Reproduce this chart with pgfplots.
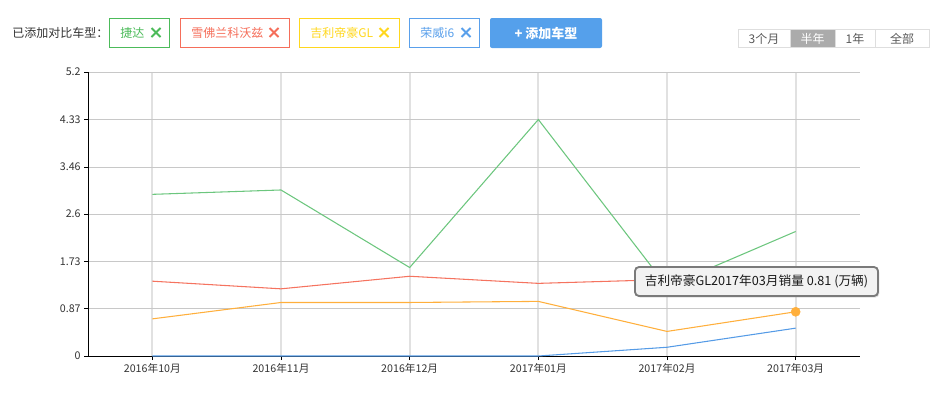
\documentclass[border=0pt]{standalone}
\usepackage{fontspec}
\setmainfont{Noto Sans CJK SC}
\usepackage{pgfplots}
\pgfplotsset{compat=1.18}
\usetikzlibrary{shadows}
\definecolor{lgreen}{RGB}{108,198,126}
\definecolor{lred}{RGB}{245,115,95}
\definecolor{lorange}{RGB}{255,175,60}
\definecolor{lblue}{RGB}{85,155,230}
\definecolor{bgreen}{RGB}{76,187,90}
\definecolor{bred}{RGB}{245,110,90}
\definecolor{byellow}{RGB}{255,215,30}
\definecolor{bblue}{RGB}{90,160,235}
\definecolor{btn}{RGB}{85,160,235}
\definecolor{hgrid}{RGB}{200,200,200}
\definecolor{vgrid}{RGB}{225,225,225}
\newcommand{\xmark}[2]{%
  \draw[#2, line width=1.5pt] (#1-4.5,28) -- (#1+4.5,37);
  \draw[#2, line width=1.5pt] (#1-4.5,37) -- (#1+4.5,28);}
\begin{document}
\begin{tikzpicture}
\begin{scope}[x=0.75pt,y=-0.75pt]
  \useasboundingbox (0,0) rectangle (939,400);
\end{scope}
\begin{axis}[
  scale only axis,
  width=579pt, height=213pt,
  at={(66pt,-267pt)}, anchor=south west,
  xmin=-0.5, xmax=5.5, ymin=0, ymax=5.2,
  axis x line*=bottom, axis y line*=left,
  axis line style={black, line width=0.75pt},
  tick align=outside, major tick length=3pt,
  tick style={black, line width=0.75pt},
  xtick={0,1,2,3,4,5},
  xticklabels={2016年10月,2016年11月,2016年12月,2017年01月,2017年02月,2017年03月},
  ytick={0,0.87,1.73,2.6,3.46,4.33,5.2},
  yticklabels={0,0.87,1.73,2.6,3.46,4.33,5.2},
  ticklabel style={font=\fontsize{8}{9.5}\selectfont, text=black!80},
  yticklabel style={xshift=1pt},
  xticklabel style={yshift=1pt},
  xmajorgrids, ymajorgrids,
  x grid style={vgrid, line width=1.4pt},
  y grid style={hgrid, line width=0.75pt},
  clip=false,
]
\addplot[lgreen, line width=0.8pt] coordinates {(0,2.96) (1,3.04) (2,1.62) (3,4.33) (4,1.27) (5,2.28)};
\addplot[lred, line width=0.8pt] coordinates {(0,1.37) (1,1.23) (2,1.46) (3,1.33) (4,1.40) (5,1.48)};
\addplot[lorange, line width=0.8pt] coordinates {(0,0.68) (1,0.98) (2,0.98) (3,1.00) (4,0.45) (5,0.81)};
\addplot[lblue, line width=0.8pt] coordinates {(0,0) (1,0) (2,0) (3,0) (4,0.16) (5,0.51)};
\addplot[only marks, mark=*, mark size=3.4pt, lorange, mark options={fill=lorange, draw=lorange}] coordinates {(5,0.81)};
\end{axis}
\begin{scope}[x=0.75pt,y=-0.75pt]
  % selected models
  \node[anchor=west, inner sep=0, text=black!80, font=\fontsize{9}{11}\selectfont] at (12,33) {已添加对比车型：};
  \draw[bgreen, line width=0.75pt] (109.5,18.5) rectangle (169,47.5);
  \node[anchor=west, inner sep=0, text=bgreen, font=\fontsize{9}{11}\selectfont] at (120,33) {捷达};
  \xmark{156}{bgreen}
  \draw[bred, line width=0.75pt] (180.5,18.5) rectangle (289,47.5);
  \node[anchor=west, inner sep=0, text=bred, font=\fontsize{9}{11}\selectfont] at (191,33) {雪佛兰科沃兹};
  \xmark{274}{bred}
  \draw[byellow, line width=0.75pt] (299.5,18.5) rectangle (399,47.5);
  \node[anchor=west, inner sep=0, text=byellow, font=\fontsize{9}{11}\selectfont] at (310,33) {吉利帝豪GL};
  \xmark{384}{byellow}
  \draw[bblue, line width=0.75pt] (409.5,18.5) rectangle (479,47.5);
  \node[anchor=west, inner sep=0, text=bblue, font=\fontsize{9}{11}\selectfont] at (420,33) {荣威i6};
  \xmark{466}{bblue}
  \fill[btn, rounded corners=1.5pt] (490,18) rectangle (602,48);
  \node[inner sep=0, text=white, font=\fontsize{9.75}{12}\selectfont\bfseries] at (546,33) {+ 添加车型};
  % period selector
  \fill[black!33] (790,29.5) rectangle (835,47.5);
  \draw[black!13, line width=0.75pt] (738.5,29.5) rectangle (929,47.5);
  \draw[black!13, line width=0.75pt] (790,29.5) -- (790,47.5) (835,29.5) -- (835,47.5) (875,29.5) -- (875,47.5);
  \node[inner sep=0, text=black!65, font=\fontsize{9}{10}\selectfont] at (764,38.5) {3个月};
  \node[inner sep=0, text=white, font=\fontsize{9}{10}\selectfont] at (812.5,38.5) {半年};
  \node[inner sep=0, text=black!65, font=\fontsize{9}{10}\selectfont] at (855,38.5) {1年};
  \node[inner sep=0, text=black!65, font=\fontsize{9}{10}\selectfont] at (902,38.5) {全部};
  % tooltip
  \draw[black!52, line width=1.4pt, fill=black!5, rounded corners=3pt,
        drop shadow={opacity=0.25, shadow xshift=1pt, shadow yshift=-1.2pt}]
        (635,267) rectangle (878,296);
  \node[inner sep=0, text=black!90, font=\fontsize{9.5}{11}\selectfont] at (756.5,281.5) {吉利帝豪GL2017年03月销量 0.81 (万辆)};
\end{scope}
\end{tikzpicture}
\end{document}
